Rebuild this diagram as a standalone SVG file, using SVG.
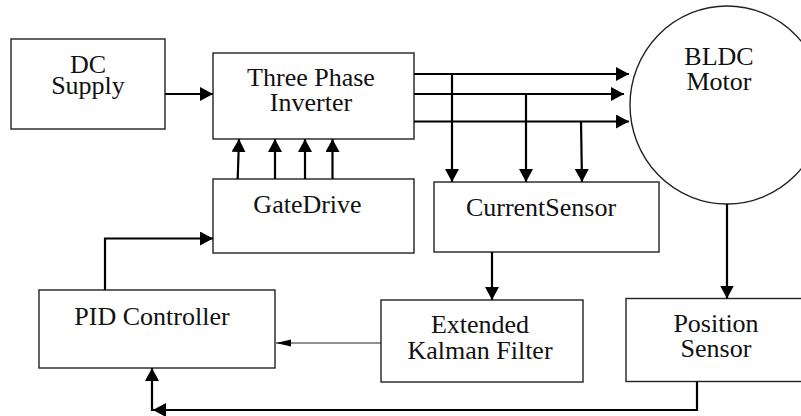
<svg xmlns="http://www.w3.org/2000/svg" width="801" height="416" viewBox="0 0 801 416">
  <style>
    .box { fill: #ffffff; stroke: #222222; stroke-width: 1.4; }
    .lbl { font-family: "Liberation Serif", "Times New Roman", serif; font-size: 26px; fill: #111111; text-anchor: middle; }
    .wire { fill: none; stroke: #000000; stroke-width: 2.2; }
    .thin { fill: none; stroke: #222222; stroke-width: 1.2; }
  </style>
  <defs>
    <marker id="arrow" markerUnits="userSpaceOnUse" markerWidth="14" markerHeight="14" refX="13" refY="7" orient="auto">
      <path d="M0,0 L13,7 L0,14 z" fill="#000000"/>
    </marker>
    <marker id="arrow-small" markerUnits="userSpaceOnUse" markerWidth="16" markerHeight="8" refX="15" refY="3.5" orient="auto">
      <path d="M0,0 L15,3.5 L0,7 z" fill="#000000"/>
    </marker>
  </defs>

  <rect width="801" height="416" fill="#ffffff"/>

  <!-- blocks -->
  <g id="dc-supply">
    <rect class="box" x="11" y="39" width="154" height="90"/>
    <text class="lbl" x="88" y="73">DC</text>
    <text class="lbl" x="88" y="94">Supply</text>
  </g>

  <g id="inverter">
    <rect class="box" x="213" y="53" width="201" height="86"/>
    <text class="lbl" x="311" y="86">Three Phase</text>
    <text class="lbl" x="311" y="111">Inverter</text>
  </g>

  <g id="motor">
    <ellipse class="box" cx="727" cy="105" rx="97" ry="99" stroke-width="1.2"/>
    <text class="lbl" x="719" y="65">BLDC</text>
    <text class="lbl" x="719" y="90">Motor</text>
  </g>

  <g id="gate-drive">
    <rect class="box" x="213" y="179" width="201" height="74"/>
    <text class="lbl" x="307.5" y="213">GateDrive</text>
  </g>

  <g id="current-sensor">
    <rect class="box" x="434" y="182" width="225" height="70"/>
    <text class="lbl" x="541" y="216">CurrentSensor</text>
  </g>

  <g id="pid-controller">
    <rect class="box" x="39" y="290" width="236" height="78"/>
    <text class="lbl" x="152" y="325">PID Controller</text>
  </g>

  <g id="ekf">
    <rect class="box" x="381" y="300" width="202" height="82"/>
    <text class="lbl" x="480" y="333">Extended</text>
    <text class="lbl" x="480" y="359">Kalman Filter</text>
  </g>

  <g id="position-sensor">
    <rect class="box" x="626" y="298.5" width="200" height="83"/>
    <text class="lbl" x="716" y="332">Position</text>
    <text class="lbl" x="716" y="357">Sensor</text>
  </g>

  <!-- connectors -->
  <g id="connectors">
    <path class="wire" d="M165,94 H213" marker-end="url(#arrow)"/>

    <!-- phase outputs to motor -->
    <path class="wire" d="M414,74 H629" marker-end="url(#arrow)"/>
    <path class="wire" d="M414,94 H624" marker-end="url(#arrow)"/>
    <path class="wire" d="M414,121.5 H629" marker-end="url(#arrow)"/>

    <!-- phase current taps -->
    <path class="wire" d="M452,74 V182" marker-end="url(#arrow)"/>
    <path class="wire" d="M526,94 V182" marker-end="url(#arrow)"/>
    <path class="wire" d="M581,121.5 L582,182" marker-end="url(#arrow)"/>

    <!-- gate signals -->
    <path class="wire" d="M237.7,179 L239,139" marker-end="url(#arrow)"/>
    <path class="wire" d="M275,179 V139" marker-end="url(#arrow)"/>
    <path class="wire" d="M305,179 V139" marker-end="url(#arrow)"/>
    <path class="wire" d="M332.5,179 V139" marker-end="url(#arrow)"/>

    <!-- controller to gate drive -->
    <path class="wire" d="M105,290 V238.5 H213" marker-end="url(#arrow)"/>

    <!-- current sensor to estimator -->
    <path class="wire" d="M492,252 V300" marker-end="url(#arrow)"/>

    <!-- estimator to controller -->
    <path class="thin" d="M381,343 H276" marker-end="url(#arrow-small)"/>

    <!-- motor shaft to position sensor -->
    <path class="wire" d="M727,204 V298.5" marker-end="url(#arrow)"/>

    <!-- position feedback -->
    <path class="wire" d="M697,381.5 V410 H153" marker-end="url(#arrow)"/>
    <path class="wire" d="M152,411 V368" marker-end="url(#arrow)"/>
  </g>
</svg>
